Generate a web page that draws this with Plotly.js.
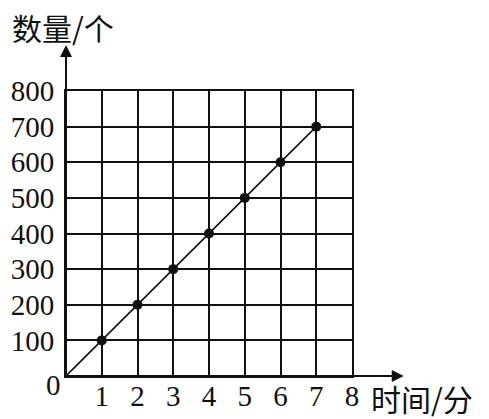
<!DOCTYPE html>
<html>
<head>
<meta charset="utf-8">
<script src="https://cdn.plot.ly/plotly-3.0.1.min.js"></script>
<style>
  body { margin: 0; background: #fff; }
  #chart { width: 489px; height: 419px; }
</style>
</head>
<body>
<div id="chart"></div>
<script>
// time in minutes, count of items
const times = [0, 1, 2, 3, 4, 5, 6, 7];
const counts = [0, 100, 200, 300, 400, 500, 600, 700];
const xTicks = [1, 2, 3, 4, 5, 6, 7, 8];
const yTicks = [100, 200, 300, 400, 500, 600, 700, 800];

const serif = "Liberation Serif";
const cjk = "Noto Sans CJK SC";

const line = {
    x: times,
    y: counts,
    mode: "lines",
    line: { color: "#111", width: 1.6 },
    hoverinfo: "skip",
};

const dots = {
    x: times.slice(1),
    y: counts.slice(1),
    mode: "markers",
    marker: { color: "#111", size: 10 },
    cliponaxis: false,
};

const layout = {
    width: 489,
    height: 419,
    margin: { l: 66, r: 137, t: 91, b: 43 },
    paper_bgcolor: "#fff",
    plot_bgcolor: "#fff",
    showlegend: false,
    font: { family: serif, size: 29, color: "#111" },
    xaxis: {
        range: [0, 8],
        tickvals: xTicks,
        ticktext: xTicks.map(String),
        tickfont: { family: serif, size: 29, color: "#111" },
        showgrid: true,
        gridcolor: "#111",
        gridwidth: 2,
        zeroline: false,
        showline: true,
        mirror: true,
        linecolor: "#111",
        linewidth: 2,
        ticks: "",
        ticklabelstandoff: -7,
        fixedrange: true,
    },
    yaxis: {
        range: [0, 800],
        tickvals: yTicks,
        ticktext: yTicks.map(String),
        tickfont: { family: serif, size: 29, color: "#111" },
        showgrid: true,
        gridcolor: "#111",
        gridwidth: 2,
        zeroline: false,
        showline: true,
        mirror: true,
        linecolor: "#111",
        linewidth: 2,
        ticks: "",
        ticklabelstandoff: 4,
        fixedrange: true,
    },
    annotations: [
        // x axis with arrow
        {
            xref: "paper", yref: "paper", x: 1.181, y: 0,
            ax: -340, ay: 0, axref: "pixel", ayref: "pixel",
            text: "", showarrow: true, arrowhead: 2, arrowsize: 1.2,
            arrowwidth: 2, arrowcolor: "#111", standoff: 0, startstandoff: 0,
        },
        // y axis with arrow
        {
            xref: "paper", yref: "paper", x: 0, y: 1.161,
            ax: 0, ay: 331, axref: "pixel", ayref: "pixel",
            text: "", showarrow: true, arrowhead: 2, arrowsize: 1.2,
            arrowwidth: 2, arrowcolor: "#111", standoff: 0, startstandoff: 0,
        },
        {
            xref: "paper", yref: "paper", x: -0.01, y: 0.03,
            xanchor: "right", yanchor: "top",
            text: "0", showarrow: false,
            font: { family: serif, size: 29, color: "#111" },
        },
        {
            xref: "paper", yref: "paper", x: -0.195, y: 1.225,
            xanchor: "left", yanchor: "middle",
            text: "数量/个", showarrow: false,
            font: { family: cjk, size: 30, color: "#111" },
        },
        {
            xref: "paper", yref: "paper", x: 1.06, y: -0.077,
            xanchor: "left", yanchor: "middle",
            text: "时间/分", showarrow: false,
            font: { family: cjk, size: 30, color: "#111" },
        },
    ],
};

Plotly.newPlot("chart", [line, dots], layout, { staticPlot: true });
</script>
</body>
</html>
